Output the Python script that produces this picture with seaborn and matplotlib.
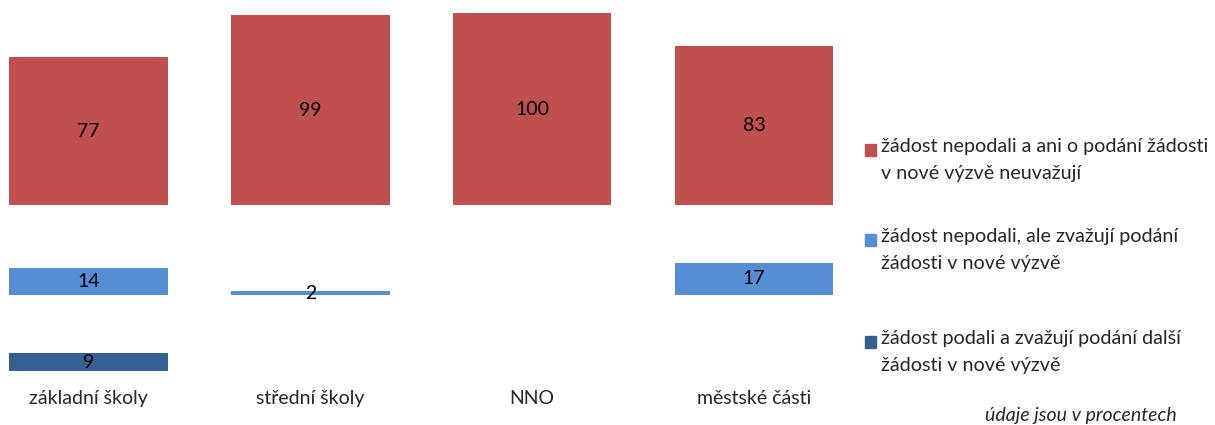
import matplotlib
matplotlib.use('Agg')
import matplotlib.pyplot as plt
import matplotlib.patches as mpatches
import seaborn as sns

# data (percent)
categories = ['základní školy', 'střední školy', 'NNO', 'městské části']
neuvazuji = [77, 99, 100, 83]
zvazuji = [14, 2, 0, 17]
podali = [9, 0, 0, 0]

series_labels = [
    'žádost nepodali a ani o podání žádosti\nv nové výzvě neuvažují',
    'žádost nepodali, ale zvažují podání\nžádosti v nové výzvě',
    'žádost podali a zvažují podání další\nžádosti v nové výzvě',
]
colors = ['#C0504D', '#558ED5', '#376092']

sns.set_style('white')
plt.rcParams['font.family'] = ['Lato', 'DejaVu Sans']

W, H = 1215, 425
fig = plt.figure(figsize=(W / 100, H / 100), dpi=100)

# one axes per series, each with its own baseline (pixel positions from top)
rows = [
    (neuvazuji, colors[0], 205.3, 100),
    (zvazuji, colors[1], 295.3, 20.3),
    (podali, colors[2], 370.7, 20.3),
]
px_per_unit = 1.92
axes = []
for vals, col, base, top in rows:
    h = top * px_per_unit
    ax = fig.add_axes([0, (H - base) / H, 840 / W, h / H])
    sns.barplot(x=categories, y=vals, color=col, saturation=1, width=0.714,
                edgecolor='none', ax=ax)
    ax.set_ylim(0, top)
    ax.set_xlim(-0.399, 3.388)
    labels = [str(v) if v else '' for v in vals]
    ax.bar_label(ax.containers[0], labels=labels, label_type='center',
                 fontsize=14, color='black')
    ax.set_yticks([])
    ax.set_ylabel('')
    ax.set_xlabel('')
    sns.despine(ax=ax, left=True, bottom=True)
    ax.patch.set_alpha(0)
    axes.append(ax)

for ax in axes[:-1]:
    ax.set_xticks([])
axes[-1].tick_params(axis='x', length=0, pad=14, labelsize=14)

# legend drawn by hand: square aligned with first text line
legend_y = [150, 240, 342]
for lab, col, yc in zip(series_labels, colors, legend_y):
    fig.patches.append(mpatches.Rectangle((865 / W, (H - yc - 6) / H), 11.5 / W, 12 / H,
                                          transform=fig.transFigure, color=col))
    fig.text(881 / W, (H - yc + 12) / H, lab, fontsize=14.2, va='top', ha='left',
             linespacing=1.72)

fig.text(1177 / W, (H - 415) / H, 'údaje jsou v procentech', fontsize=14,
         style='italic', ha='right', va='center')

fig.savefig('out.png', dpi=100)
